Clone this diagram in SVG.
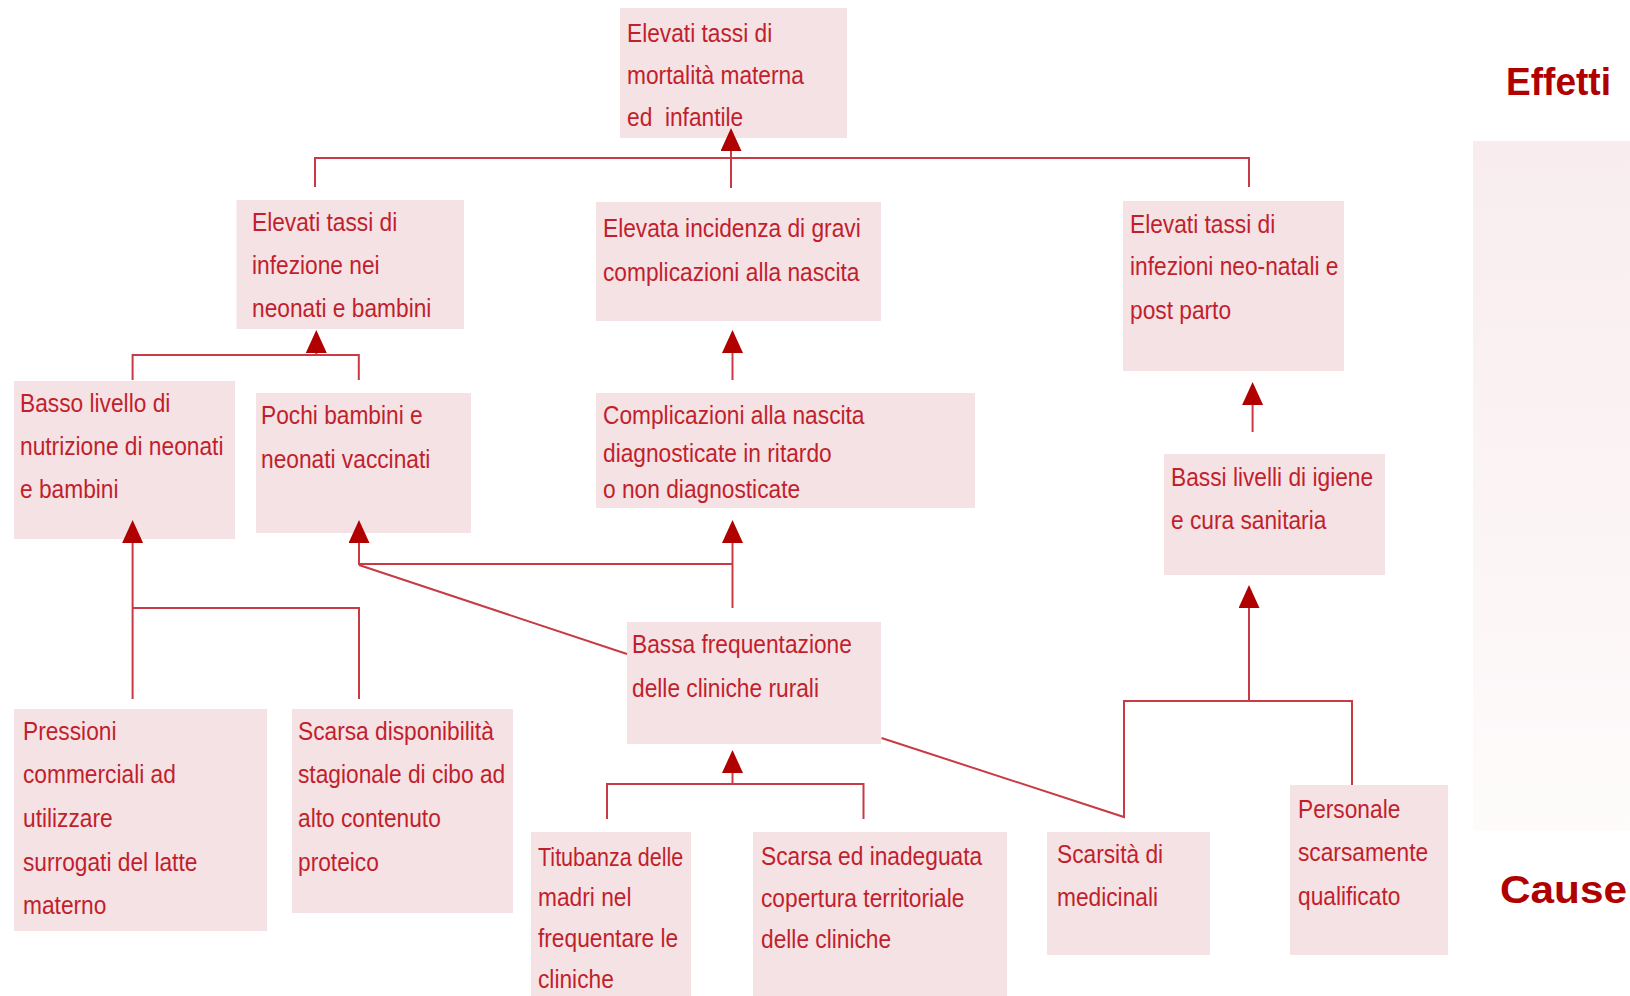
<svg xmlns="http://www.w3.org/2000/svg" width="1630" height="996" viewBox="0 0 1630 996">
<defs>
<style>
.box{fill:#f4e2e4}
.t{font-family:"Liberation Sans",Arial,sans-serif;font-size:26px;fill:#c21f2d;white-space:pre;transform-box:fill-box;transform-origin:0% 50%;transform:scaleX(0.875)}
.lbl{font-family:"Liberation Sans",Arial,sans-serif;font-weight:bold;font-size:39px;fill:#b00000}
.c{fill:none;stroke:#c83a44;stroke-width:2}
</style>
<marker id="ah" markerUnits="userSpaceOnUse" markerWidth="24" markerHeight="22" refX="0" refY="10.5" orient="auto" viewBox="0 0 24 22">
<path d="M0,0 L23,10.5 L0,21 z" fill="#b00000"/>
</marker>
<linearGradient id="pg" x1="0" y1="0" x2="0" y2="1">
<stop offset="0" stop-color="#f8ecee"/>
<stop offset="1" stop-color="#fefbfb"/>
</linearGradient>
</defs>
<rect width="1630" height="996" fill="#ffffff"/>
<rect x="1473" y="141" width="157" height="690" fill="url(#pg)"/>

<g id="n_top"><rect class="box" x="620" y="8" width="227" height="130"/>
<text class="t" x="627" y="42">Elevati tassi di</text>
<text class="t" x="627" y="84">mortalità materna</text>
<text class="t" x="627" y="126">ed  infantile</text></g>

<g id="n_inf"><rect class="box" x="236.5" y="200" width="227.5" height="129"/>
<text class="t" x="252" y="231">Elevati tassi di</text>
<text class="t" x="252" y="274">infezione nei</text>
<text class="t" x="252" y="317">neonati e bambini</text></g>

<g id="n_gravi"><rect class="box" x="596" y="202" width="285" height="119"/>
<text class="t" x="603" y="237">Elevata incidenza di gravi</text>
<text class="t" x="603" y="281">complicazioni alla nascita</text></g>

<g id="n_neo"><rect class="box" x="1123" y="201" width="221" height="170"/>
<text class="t" x="1130" y="233">Elevati tassi di</text>
<text class="t" x="1130" y="275">infezioni neo-natali e</text>
<text class="t" x="1130" y="319">post parto</text></g>

<g id="n_basso"><rect class="box" x="14" y="381" width="221" height="158"/>
<text class="t" x="20" y="412">Basso livello di</text>
<text class="t" x="20" y="455">nutrizione di neonati</text>
<text class="t" x="20" y="498">e bambini</text></g>

<g id="n_pochi"><rect class="box" x="256" y="393" width="215" height="140"/>
<text class="t" x="261" y="424">Pochi bambini e</text>
<text class="t" x="261" y="468">neonati vaccinati</text></g>

<g id="n_compl"><rect class="box" x="596" y="393" width="379" height="115"/>
<text class="t" x="603" y="424">Complicazioni alla nascita</text>
<text class="t" x="603" y="462">diagnosticate in ritardo</text>
<text class="t" x="603" y="498">o non diagnosticate</text></g>

<g id="n_bassi"><rect class="box" x="1164" y="454" width="221" height="121"/>
<text class="t" x="1171" y="486">Bassi livelli di igiene</text>
<text class="t" x="1171" y="529">e cura sanitaria</text></g>

<g id="n_bassa"><rect class="box" x="627" y="622" width="254" height="122"/>
<text class="t" x="632" y="653">Bassa frequentazione</text>
<text class="t" x="632" y="697">delle cliniche rurali</text></g>

<g id="n_press"><rect class="box" x="14" y="709" width="253" height="222"/>
<text class="t" x="23" y="740">Pressioni</text>
<text class="t" x="23" y="783">commerciali ad</text>
<text class="t" x="23" y="827">utilizzare</text>
<text class="t" x="23" y="871">surrogati del latte</text>
<text class="t" x="23" y="914">materno</text></g>

<g id="n_disp"><rect class="box" x="292" y="709" width="221" height="204"/>
<text class="t" x="298" y="740">Scarsa disponibilità</text>
<text class="t" x="298" y="783">stagionale di cibo ad</text>
<text class="t" x="298" y="827">alto contenuto</text>
<text class="t" x="298" y="871">proteico</text></g>

<g id="n_titub"><rect class="box" x="531" y="832" width="160" height="164"/>
<text class="t" x="538" y="866" textLength="166" lengthAdjust="spacingAndGlyphs">Titubanza delle</text>
<text class="t" x="538" y="906">madri nel</text>
<text class="t" x="538" y="947">frequentare le</text>
<text class="t" x="538" y="988">cliniche</text></g>

<g id="n_cop"><rect class="box" x="753" y="832" width="254" height="164"/>
<text class="t" x="761" y="865">Scarsa ed inadeguata</text>
<text class="t" x="761" y="907">copertura territoriale</text>
<text class="t" x="761" y="948">delle cliniche</text></g>

<g id="n_med"><rect class="box" x="1047" y="832" width="163" height="123"/>
<text class="t" x="1057" y="863">Scarsità di</text>
<text class="t" x="1057" y="906">medicinali</text></g>

<g id="n_pers"><rect class="box" x="1290" y="785" width="158" height="170"/>
<text class="t" x="1298" y="818">Personale</text>
<text class="t" x="1298" y="861">scarsamente</text>
<text class="t" x="1298" y="905">qualificato</text></g>

<g id="labels">
<text class="lbl" x="1506" y="95" textLength="105" lengthAdjust="spacingAndGlyphs">Effetti</text>
<text class="lbl" x="1500" y="903" textLength="127" lengthAdjust="spacingAndGlyphs">Cause</text>
</g>

<g id="connectors">
<path class="c" d="M315,187 V158 H1249 V187"/>
<path class="c" d="M731,188 V151" marker-end="url(#ah)"/>
<path class="c" d="M132.6,380 V355 H358.8 V380"/>
<path class="c" d="M316.3,356 V353" marker-end="url(#ah)"/>
<path class="c" d="M732.5,380 V353" marker-end="url(#ah)"/>
<path class="c" d="M1252.6,432 V405" marker-end="url(#ah)"/>
<path class="c" d="M132.6,699 V543" marker-end="url(#ah)"/>
<path class="c" d="M132.6,608 H359 V699"/>
<path class="c" d="M732.5,608 V543" marker-end="url(#ah)"/>
<path class="c" d="M732.5,564 H359"/>
<path class="c" d="M359,565 V543" marker-end="url(#ah)"/>
<path class="c" d="M359,565 L627,654"/>
<path class="c" d="M607,819 V784 H863.5 V819"/>
<path class="c" d="M732.5,785 V773" marker-end="url(#ah)"/>
<path class="c" d="M881.5,738 L1124,817 V701 H1352 V785"/>
<path class="c" d="M1249,701 V608" marker-end="url(#ah)"/>
</g>
</svg>
